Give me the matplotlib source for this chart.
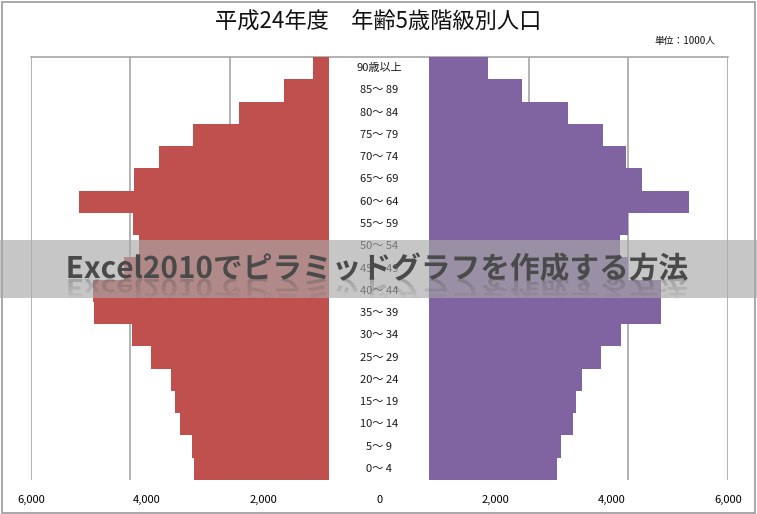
import numpy as np
import matplotlib
matplotlib.use('Agg')
import matplotlib.pyplot as plt
import matplotlib.patches as patches
from matplotlib.textpath import TextPath
from matplotlib.font_manager import FontProperties
from matplotlib.transforms import Affine2D

plt.rcParams['font.family'] = ['Noto Sans CJK JP', 'DejaVu Sans']

# --- data (unit: 1000 people), bottom row first ---
age_groups = ['0～ 4', '5～ 9', '10～ 14', '15～ 19', '20～ 24', '25～ 29', '30～ 34',
              '35～ 39', '40～ 44', '45～ 49', '50～ 54', '55～ 59', '60～ 64',
              '65～ 69', '70～ 74', '75～ 79', '80～ 84', '85～ 89', '90歳以上']
male = [2710, 2760, 3000, 3100, 3180, 3580, 3960, 4740, 4760, 4120,
        3820, 3940, 5025, 3920, 3420, 2735, 1810, 905, 320]
female = [2570, 2650, 2880, 2950, 3070, 3460, 3860, 4650, 4660, 4000,
          3840, 4000, 5210, 4280, 3960, 3500, 2790, 1870, 1190]
axis_ticks = [-6000, -4000, -2000, 0, 2000, 4000, 6000]
grid_ticks = [0, 2000, 4000, 6000]

title = '平成24年度　年齢5歳階級別人口'
unit_text = '単位：1000人'
banner_text = 'Excel2010でピラミッドグラフを作成する方法'

W, H = 757, 514
RED = '#C0504D'
PURPLE = '#8064A2'
GRID = '#a6a6a6'


def px_rect(x0, y_top, x1, y_bot):
    '''pixel box (top-left origin) -> figure fraction rect'''
    return [x0 / W, 1 - y_bot / H, (x1 - x0) / W, (y_bot - y_top) / H]


fig = plt.figure(figsize=(W / 100, H / 100), dpi=100)
n = len(age_groups)
y = np.arange(n)

# scale axis underneath: only the tick labels and the top line
ax_scale = fig.add_axes(px_rect(31, 57, 728, 480))
ax_scale.set_xlim(-6000, 6000)
ax_scale.set_ylim(0, 1)
ax_scale.set_xticks(axis_ticks)
ax_scale.set_xticklabels([f'{abs(v):,}' for v in axis_ticks], fontsize=8)
ax_scale.tick_params(axis='x', length=0, pad=11)
ax_scale.set_yticks([])
for s in ['left', 'right', 'bottom']:
    ax_scale.spines[s].set_visible(False)
ax_scale.spines['top'].set_color(GRID)
ax_scale.spines['top'].set_linewidth(1.2)
ax_scale.patch.set_visible(False)

# left (male) and right (female) panels
ax_l = fig.add_axes(px_rect(31, 57, 329, 480))
ax_r = fig.add_axes(px_rect(429, 57, 728, 480))
for ax, vals, col in [(ax_l, male, RED), (ax_r, female, PURPLE)]:
    ax.barh(y, vals, height=1.0, color=col, linewidth=0, zorder=2)
    ax.set_ylim(-0.5, n - 0.5)
    ax.set_xticks(grid_ticks)
    ax.set_yticks([])
    ax.grid(axis='x', color=GRID, linewidth=1.2, zorder=0)
    ax.tick_params(axis='x', length=0, labelbottom=False)
    for s in ax.spines.values():
        s.set_visible(False)
    ax.patch.set_visible(False)
ax_l.set_xlim(6000, 0)
ax_r.set_xlim(0, 6000)

# centre labels
ax_c = fig.add_axes(px_rect(329, 57, 429, 480))
ax_c.set_ylim(-0.5, n - 0.5)
ax_c.set_xlim(0, 1)
ax_c.axis('off')
for i, lab in enumerate(age_groups):
    ax_c.text(0.5, i, lab, ha='center', va='center', fontsize=8, color='#1a1a1a')

fig.text(378 / W, 1 - 22 / H, title, ha='center', va='center', fontsize=16, color='#111111')
fig.text(685 / W, 1 - 41 / H, unit_text, ha='center', va='center', fontsize=7, color='#111111')

# outer frame
fig.add_artist(patches.Rectangle((2 / W, 1 / H), (W - 4) / W, (H - 3) / H,
                                 transform=fig.transFigure, fill=False,
                                 edgecolor='#9a9a9a', linewidth=1.2, zorder=10))

# translucent banner with title text and a fading reflection
fig.add_artist(patches.Rectangle((0, 1 - 298 / H), 1, 58 / H, transform=fig.transFigure,
                                 facecolor='#a8a8a8', alpha=0.65, edgecolor='none', zorder=20))

fp = FontProperties(family='Noto Sans CJK JP', weight='bold')
tp = TextPath((0, 0), banner_text, size=29.7, prop=fp)
ext = tp.get_extents()
x0 = 378 - ext.width / 2 - ext.x0
base = H - 278
fig.add_artist(patches.PathPatch(tp, transform=Affine2D().translate(x0, base),
                                 facecolor='#4a4a4a', edgecolor='none', zorder=22))
refl_tr = Affine2D().scale(1, -0.8).translate(x0, base - 1)
strip = 4
for k in range(5):
    top = base - 1 - k * strip
    part = patches.PathPatch(tp, transform=refl_tr, facecolor='#4a4a4a',
                             alpha=0.28 * (1 - k / 5), edgecolor='none', zorder=21)
    fig.add_artist(part)
    part.set_clip_path(patches.Rectangle((0, top - strip), W, strip, transform=None))

fig.savefig('out.png', dpi=100)
plt.close(fig)
